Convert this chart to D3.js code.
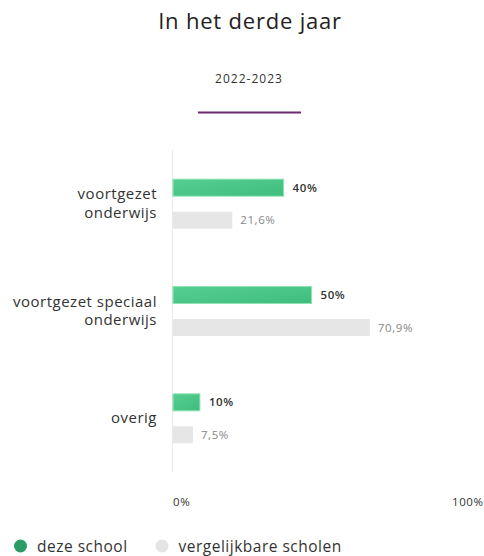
<!DOCTYPE html>
<html lang="nl">
<head>
  <meta charset="UTF-8">
  <title>In het derde jaar</title>
  <script src="https://d3js.org/d3.v7.min.js"></script>
  <style>
    body { margin: 0; background: #fff; font-family: "Open Sans", sans-serif; }
    svg text { font-family: "Open Sans", sans-serif; }
  </style>
</head>
<body>
  <svg id="chart" width="484" height="556"></svg>
  <script>
    // data
    const categories = [["voortgezet", "onderwijs"], ["voortgezet speciaal", "onderwijs"], ["overig"]];
    const schoolValues = [40, 50, 10];
    const compareValues = [21.6, 70.9, 7.5];
    const schoolLabels = ["40%", "50%", "10%"];
    const compareLabels = ["21,6%", "70,9%", "7,5%"];
    const tickValues = [0, 100];
    const legendItems = ["deze school", "vergelijkbare scholen"];

    const svg = d3.select("#chart");

    const defs = svg.append("defs");
    const grad = defs.append("linearGradient").attr("id", "greenGrad")
      .attr("x1", "0").attr("y1", "0").attr("x2", "1").attr("y2", "1");
    grad.append("stop").attr("offset", "0%").attr("stop-color", "#56cf91");
    grad.append("stop").attr("offset", "100%").attr("stop-color", "#3fbd7e");

    // header
    svg.append("text").attr("x", 250).attr("y", 29).attr("text-anchor", "middle")
      .attr("font-size", 22).attr("letter-spacing", 0.8).attr("fill", "#222").text("In het derde jaar");
    svg.append("text").attr("x", 249).attr("y", 83).attr("text-anchor", "middle")
      .attr("font-size", 12).attr("letter-spacing", 1).attr("fill", "#333").text("2022-2023");
    svg.append("line").attr("x1", 198).attr("x2", 301).attr("y1", 112.5).attr("y2", 112.5)
      .attr("stroke", "#6e2a6e").attr("stroke-width", 2);

    const x = d3.scaleLinear().domain([0, 100]).range([172, 451]);
    const y = d3.scaleBand().domain(d3.range(categories.length)).range([150, 472]);
    const barH = 17;

    // axis line
    svg.append("line").attr("x1", x(0) + 0.5).attr("x2", x(0) + 0.5)
      .attr("y1", y.range()[0]).attr("y2", y.range()[1])
      .attr("stroke", "#ede8ef").attr("stroke-width", 1);

    const g = svg.selectAll(".grp").data(categories).join("g").attr("class", "grp");

    // category labels
    g.append("text")
      .attr("text-anchor", "end")
      .attr("font-size", 15)
      .attr("letter-spacing", 0.5)
      .attr("fill", "#333")
      .each(function(d, i) {
        const cy = y(i) + y.bandwidth() / 2;
        const lh = 18.5;
        const start = cy - (d.length - 1) * lh / 2 + 5;
        d3.select(this).selectAll("tspan").data(d).join("tspan")
          .attr("x", 157).attr("y", (t, j) => start + j * lh).text(t => t);
      });

    // school bars
    g.append("rect")
      .attr("x", x(0) + 1)
      .attr("y", (d, i) => y(i) + y.bandwidth() / 2 - 24.5)
      .attr("width", (d, i) => x(schoolValues[i]) - x(0) - 1)
      .attr("height", barH)
      .attr("fill", "url(#greenGrad)")
      .attr("stroke", "#8ee3b4").attr("stroke-width", 1);

    g.append("text")
      .attr("x", (d, i) => x(schoolValues[i]) + 9)
      .attr("y", (d, i) => y(i) + y.bandwidth() / 2 - 12)
      .attr("font-size", 11.5).attr("letter-spacing", 0.6).attr("font-weight", 600).attr("fill", "#333")
      .text((d, i) => schoolLabels[i]);

    // comparison bars
    g.append("rect")
      .attr("x", x(0) + 1)
      .attr("y", (d, i) => y(i) + y.bandwidth() / 2 + 8)
      .attr("width", (d, i) => x(compareValues[i]) - x(0) - 1)
      .attr("height", barH)
      .attr("fill", "#e6e6e6");

    g.append("text")
      .attr("x", (d, i) => x(compareValues[i]) + 8)
      .attr("y", (d, i) => y(i) + y.bandwidth() / 2 + 20.5)
      .attr("font-size", 11.5).attr("letter-spacing", 0.6).attr("fill", "#888")
      .text((d, i) => compareLabels[i]);

    // ticks
    svg.selectAll(".tick").data(tickValues).join("text").attr("class", "tick")
      .attr("x", d => x(d) + 1).attr("y", 506)
      .attr("font-size", 11.5).attr("letter-spacing", 0.6).attr("fill", "#333")
      .text(d => d + "%");

    // legend
    const legendX = [20.5, 162];
    const legendColors = ["#2a9d66", "#e4e4e4"];
    const lg = svg.selectAll(".leg").data(legendItems).join("g").attr("class", "leg")
      .attr("transform", (d, i) => `translate(${legendX[i]},546)`);
    lg.append("circle").attr("r", 6.5).attr("fill", (d, i) => legendColors[i]);
    lg.append("text").attr("x", 16.5).attr("y", 5.5)
      .attr("font-size", 15.5).attr("letter-spacing", 0.5).attr("fill", "#333").text(d => d);
  </script>
</body>
</html>
